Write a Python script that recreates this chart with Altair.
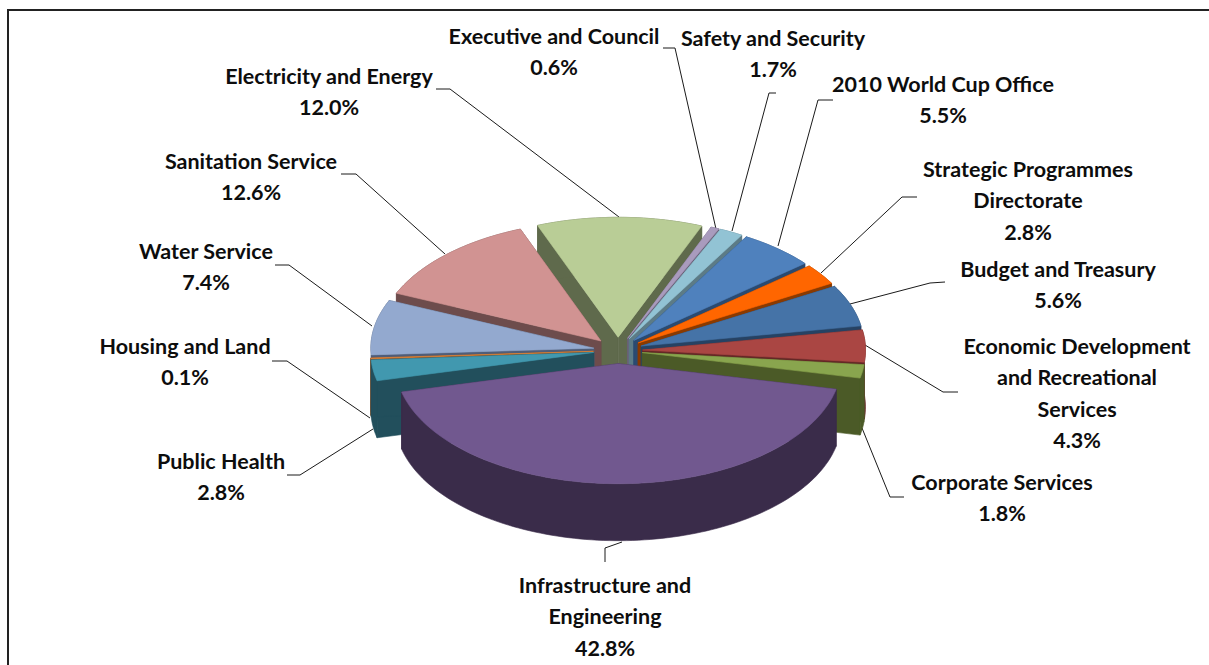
import math
import altair as alt

# Budget shares by directorate, in clockwise drawing order
categories = ["Electricity and Energy", "Executive and Council", "Safety and Security",
              "2010 World Cup Office", "Strategic Programmes Directorate", "Budget and Treasury",
              "Economic Development and Recreational Services", "Corporate Services",
              "Infrastructure and Engineering", "Public Health", "Housing and Land",
              "Water Service", "Sanitation Service"]
shares = [12.0, 0.6, 1.7, 5.5, 2.8, 5.6, 4.3, 1.8, 42.8, 2.8, 0.1, 7.4, 12.6]
top_colors = ["#B9CD96", "#A99BBD", "#92C3D4", "#4F81BD", "#FF6600", "#4573A7", "#AA4643",
              "#89A54E", "#71588F", "#4198AF", "#DB843D", "#93A9CF", "#D19392"]
wall_colors = ["#5F6A4C", "#6A6178", "#5C7B86", "#2B4A70", "#8A3A00", "#264263", "#642826",
               "#4B5A27", "#3A2C4A", "#224F5C", "#8A5325", "#4F5D78", "#6D4C4C"]

# Label wrapping: one list of text lines per category
label_lines = [["Electricity and Energy"], ["Executive and Council"], ["Safety and Security"],
               ["2010 World Cup Office"], ["Strategic Programmes", "Directorate"],
               ["Budget and Treasury"], ["Economic Development", "and Recreational", "Services"],
               ["Corporate Services"], ["Infrastructure and", "Engineering"], ["Public Health"],
               ["Housing and Land"], ["Water Service"], ["Sanitation Service"]]

# Label anchors and leader paths, in canvas pixels
label_anchor = [(329, 77.5), (554, 37.5), (773, 39.5), (943, 85.5), (1028, 170.5), (1058, 270.5),
                (1077, 347.5), (1002, 483.5), (605, 586.5), (221, 462.5), (185, 347.5), (206, 252.5),
                (251, 162.5)]
line_gap = 31.5
leaders = [[(436, 89), (450, 89), (619, 217)], [(663, 48), (675, 48), (716, 229)],
           [(776, 93), (769, 93), (732, 231)], [(833, 100), (818, 100), (778, 246)],
           [(917, 197), (902, 197), (821, 273)], [(945, 282), (930, 283), (850, 304)],
           [(958, 392), (943, 392), (865, 345)], [(904, 497), (890, 497), (862, 428)],
           [(605, 562), (605, 548), (622, 542)], [(287, 475), (300, 475), (373, 429)],
           [(272, 361), (287, 361), (370, 418)], [(275, 265), (289, 265), (372, 326)],
           [(341, 174), (356, 174), (445, 254)]]

# Tilted pie geometry
CX, CY = 618, 350.5
RX, RY = 223, 120
EXPLODE = 0.11
DEPTH = 57
START = 22 - 3.6 * shares[0] - 3.6 * (100 - sum(shares))


def feature(rings, color, kind="Polygon"):
    return {"type": "Feature", "properties": {"color": color},
            "geometry": {"type": kind, "coordinates": rings}}


def wedge_features(a0, a1, top, wall):
    """Side walls then top face of one exploded wedge (angles clockwise from 12 o'clock)."""
    mid = math.radians((a0 + a1) / 2)
    ax = CX + EXPLODE * RX * math.sin(mid)
    ay = CY - EXPLODE * RY * math.cos(mid)
    n = max(2, int((a1 - a0) / 1.5))
    arc = []
    for i in range(n + 1):
        t = math.radians(a0 + (a1 - a0) * i / n)
        arc.append((ax + RX * math.sin(t), ay - RY * math.cos(t)))
    lower = [(x, y + DEPTH) for x, y in arc]
    apex = (ax, ay)
    apex_low = (ax, ay + DEPTH)
    side_a = [apex, arc[0], lower[0], apex_low, apex]
    side_b = [apex, arc[-1], lower[-1], apex_low, apex]
    outer = arc + lower[::-1] + [arc[0]]
    face = [apex] + arc + [apex]
    return [(side_a, wall), (side_b, wall), (outer, wall), (face, top)]


wedges = []
angle = START
for share, top, wall in zip(shares, top_colors, wall_colors):
    sweep = share * 3.6
    wedges.append((angle, angle + sweep, top, wall))
    angle += sweep

# Paint from the back of the pie to the front
wedges.sort(key=lambda w: -math.cos(math.radians((w[0] + w[1]) / 2)))
shapes = []
for a0, a1, top, wall in wedges:
    for ring, color in wedge_features(a0, a1, top, wall):
        shapes.append(feature([[list(p) for p in ring]], color))

pixel_projection = dict(type="identity", scale=1, translate=[0, 0])

pie = alt.Chart(alt.Data(values=shapes)).mark_geoshape(strokeWidth=0.6).encode(
    fill=alt.Color("properties.color:N", scale=None),
    stroke=alt.Color("properties.color:N", scale=None),
).project(**pixel_projection)

line_features = [feature([list(p) for p in path], "#1a1a1a", "LineString") for path in leaders]
leader_marks = alt.Chart(alt.Data(values=line_features)).mark_geoshape(
    filled=False, stroke="#1a1a1a", strokeWidth=1
).project(**pixel_projection)

frame = alt.Chart(alt.Data(values=[feature([[8, 665], [8, 10], [1209, 10]], "#222", "LineString")])
                  ).mark_geoshape(filled=False, stroke="#222222", strokeWidth=2
                                  ).project(**pixel_projection)

rows = []
for lines, (lx, ly), share in zip(label_lines, label_anchor, shares):
    for i, text in enumerate(lines + [f"{share:.1f}%"]):
        rows.append({"text": text, "px": lx, "py": ly + i * line_gap})

labels = alt.Chart(alt.Data(values=rows)).mark_text(
    font="Lato", fontWeight="bold", fontSize=21.5, align="center", baseline="middle", color="#0d0d0d"
).encode(
    x=alt.X("px:Q", scale=None),
    y=alt.Y("py:Q", scale=None),
    text="text:N",
)

chart = alt.layer(frame, leader_marks, pie, labels).properties(
    width=1209, height=665, padding=0, autosize=alt.AutoSizeParams(type="none"),
    background="white",
).configure_view(stroke=None)

chart.save("out.html", embed_options={"renderer": "svg", "actions": False})
